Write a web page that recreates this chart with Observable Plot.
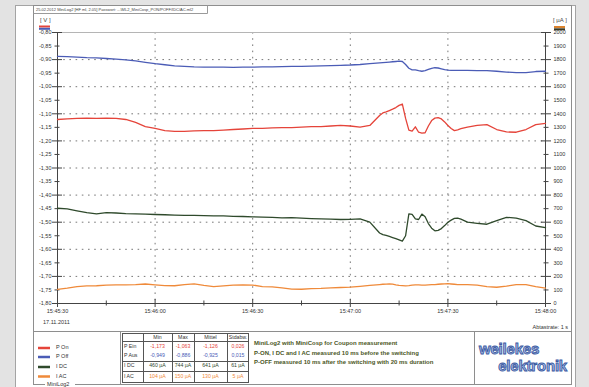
<!DOCTYPE html>
<html>
<head>
<meta charset="utf-8">
<script src="https://cdn.jsdelivr.net/npm/d3@7"></script>
<script src="https://cdn.jsdelivr.net/npm/@observablehq/plot@0.6"></script>
<style>
  html, body { margin: 0; padding: 0; background: #e3e3e3; }
  #page { position: relative; width: 589px; height: 387px; overflow: hidden; }
  #page > svg { position: absolute; left: 0; top: 0; }
</style>
</head>
<body>
<div id="page"></div>
<script>
// Sample times in seconds after 15:45:30 (17.11.2011)
const seconds = [0,3,6,9,12,15,18,21,24,27,30,33,36,39,42,45,48,51,54,57,60,63,66,69,72,75,78,81,84,87,90,93,96,99,
  100,101,102,103,104,105,106,107,108,109,110,111,112,113,114,115,116,117,118,119,120,121,122,123,124,125,126,
  129,132,135,138,141,144,147,150];

// P On potential [V]
const pOn = [-1.121,-1.119,-1.117,-1.116,-1.117,-1.116,-1.117,-1.121,-1.132,-1.147,-1.154,-1.162,-1.165,-1.165,-1.163,-1.162,-1.162,-1.160,-1.158,-1.156,-1.154,-1.154,-1.152,-1.151,-1.151,-1.149,-1.147,-1.147,-1.145,-1.143,-1.145,-1.149,-1.143,-1.106,
  -1.097,-1.093,-1.088,-1.083,-1.077,-1.069,-1.064,-1.117,-1.160,-1.164,-1.148,-1.168,-1.171,-1.170,-1.145,-1.125,-1.116,-1.114,-1.119,-1.130,-1.143,-1.154,-1.162,-1.159,-1.155,-1.152,-1.149,
  -1.143,-1.140,-1.158,-1.167,-1.168,-1.158,-1.140,-1.135];

// P Off potential [V]
const pOff = [-0.888,-0.889,-0.891,-0.893,-0.894,-0.896,-0.898,-0.901,-0.905,-0.910,-0.915,-0.919,-0.923,-0.925,-0.927,-0.928,-0.928,-0.928,-0.929,-0.928,-0.928,-0.927,-0.927,-0.926,-0.925,-0.925,-0.924,-0.923,-0.922,-0.921,-0.920,-0.918,-0.915,-0.912,
  -0.911,-0.910,-0.909,-0.908,-0.907,-0.906,-0.907,-0.918,-0.932,-0.938,-0.938,-0.941,-0.943,-0.941,-0.936,-0.932,-0.930,-0.931,-0.934,-0.937,-0.939,-0.940,-0.940,-0.940,-0.940,-0.940,-0.940,
  -0.941,-0.941,-0.943,-0.946,-0.948,-0.948,-0.944,-0.943];

// I DC current [µA]
const iDC = [703,699,684,670,662,670,668,664,662,660,657,655,652,650,650,648,646,646,643,642,640,638,636,632,634,630,627,625,622,620,621,625,601,520,
  508,503,495,487,479,470,460,500,662,657,625,620,660,640,590,556,536,540,553,575,600,615,628,630,622,612,600,
  592,585,612,636,630,612,572,560];

// I AC current [µA]
const iAC = [104,113,125,130,131,135,137,138,140,144,138,132,131,140,145,134,125,130,136,138,136,125,122,115,106,105,110,112,116,118,121,127,134,140,
  142,143,145,143,138,134,132,130,132,135,137,138,136,135,137,139,140,142,144,145,146,144,142,140,139,140,139,
  136,125,120,128,140,140,124,114];

// Statistics table
const statHeads = ["Min", "Max", "Mittel", "Stdabw."];
const statRows = ["P Ein", "P Aus", "I DC", "I AC"];
const statValues = [
  ["-1,173", "-1,063", "-1,126", "0,026"],
  ["-0,949", "-0,886", "-0,925", "0,015"],
  ["460 µA", "744 µA", "641 µA", "61 µA"],
  ["104 µA", "150 µA", "130 µA", "5 µA"]
];
const legendNames = ["P On", "P Off", "I DC", "I AC"];
const noteLines = [
  "MiniLog2 with MiniCosp for Coupon measurement",
  "P-ON, I DC and I AC measured 10 ms before the switching",
  "P-OFF measured 10 ms after the switching with 20 ms duration"
];

const colors = {pOn: "#e5443a", pOff: "#4b5cb6", iDC: "#2f4a2c", iAC: "#ef8a3a"};
const seriesColors = [colors.pOn, colors.pOff, colors.iDC, colors.iAC];
const FONT = "Arial, 'Liberation Sans', sans-serif";

const t0 = new Date(2011, 10, 17, 15, 45, 30);
const at = s => new Date(t0.getTime() + s * 1000);
const toV = uA => -1.8 + uA / 2000;   // right axis: 0..2000 µA over -1.80..-0.80 V

const rows = seconds.map((s, i) => ({t: at(s), pOn: pOn[i], pOff: pOff[i], iDC: iDC[i], iAC: iAC[i]}));

const vAll = d3.range(0, 21).map(i => +(-0.8 - i * 0.05).toFixed(2));
const vMajor = vAll.filter((v, i) => i % 2 === 0);
const vMinor = vAll.filter((v, i) => i % 2 === 1);
const vGrid = vMajor.filter(v => v < -0.85 && v > -1.75);
const tMajor = [0, 30, 60, 90, 120, 150].map(at);
const tMinor = [15, 45, 75, 105, 135].map(at);
const tGrid = [30, 60, 90, 120].map(at);
const fmtV = v => v.toFixed(2).replace(".", ",");
const fmtA = v => String(Math.round((v + 1.8) * 2000));
const fmtT = d3.timeFormat("%H:%M:%S");
const blank = () => "";

// ---------- window and panel decoration (behind the chart) ----------
const page = d3.select("#page");
const deco = page.append("svg").attr("width", 589).attr("height", 387)
  .style("font-family", FONT);

deco.append("rect").attr("x", 15.5).attr("y", 5.5).attr("width", 560).attr("height", 392)
  .attr("fill", "#fff").attr("stroke", "#a4a4a4");
deco.append("rect").attr("x", 33.5).attr("y", 5.5).attr("width", 538).attr("height", 379)
  .attr("fill", "none").attr("stroke", "#8e8e8e");
deco.append("path").attr("d", "M33.5,13.5H207.5V5.5").attr("fill", "none").attr("stroke", "#9a9a9a");
deco.append("text").attr("x", 36).attr("y", 9.7).attr("dominant-baseline", "middle")
  .attr("font-size", 4).attr("fill", "#444")
  .text("25.02.2012  MiniLog2 [HF ml, 2.05]  Passwort:  ...\\ML2_MiniCosp_PON/POFF/IDC/AC.ml2");

// unit headers with colour keys
deco.append("text").attr("x", 40).attr("y", 20.5).attr("dominant-baseline", "middle")
  .attr("font-size", 6).attr("fill", "#444").text("[ V ]");
deco.append("rect").attr("x", 39).attr("y", 25.5).attr("width", 11).attr("height", 2).attr("fill", colors.pOn);
deco.append("rect").attr("x", 39).attr("y", 27.8).attr("width", 11).attr("height", 2).attr("fill", colors.pOff);
deco.append("text").attr("x", 553).attr("y", 20.5).attr("dominant-baseline", "middle")
  .attr("font-size", 6).attr("fill", "#444").text("[ µA ]");
deco.append("rect").attr("x", 554).attr("y", 26).attr("width", 11).attr("height", 2).attr("fill", "#d9822e");
deco.append("rect").attr("x", 554).attr("y", 28.3).attr("width", 11).attr("height", 2).attr("fill", "#3a3a26");

deco.append("text").attr("x", 43).attr("y", 323).attr("dominant-baseline", "middle")
  .attr("font-size", 5.5).attr("fill", "#333").text("17.11.2011");
deco.append("text").attr("x", 568).attr("y", 327.5).attr("dominant-baseline", "middle")
  .attr("text-anchor", "end").attr("font-size", 5.5).attr("fill", "#333").text("Abtastrate: 1 s");

// bottom panel
deco.append("line").attr("x1", 33).attr("x2", 571).attr("y1", 331.5).attr("y2", 331.5).attr("stroke", "#8e8e8e");
deco.append("line").attr("x1", 120.5).attr("x2", 120.5).attr("y1", 331).attr("y2", 384).attr("stroke", "#8e8e8e");
deco.append("line").attr("x1", 474.5).attr("x2", 474.5).attr("y1", 331).attr("y2", 384).attr("stroke", "#8e8e8e");

// legend
legendNames.forEach((name, i) => {
  const y = [348, 357, 367, 376.5][i];
  deco.append("line").attr("x1", 38).attr("x2", 50).attr("y1", y).attr("y2", y)
    .attr("stroke", seriesColors[i]).attr("stroke-width", 2.5);
  deco.append("text").attr("x", 56).attr("y", y).attr("dominant-baseline", "middle")
    .attr("font-size", 5.5).attr("fill", "#333").text(name);
});
deco.append("rect").attr("x", 45).attr("y", 381).attr("width", 30).attr("height", 6).attr("fill", "#fff");
deco.append("text").attr("x", 47).attr("y", 384.5).attr("dominant-baseline", "middle")
  .attr("font-size", 5.5).attr("fill", "#333").text("MiniLog2");

// statistics table
const colEdges = [122, 143, 172, 194, 227, 249];
const rowY = [346.5, 356, 366, 376.5];
deco.append("rect").attr("x", 122.5).attr("y", 333.5).attr("width", 126).attr("height", 49)
  .attr("fill", "none").attr("stroke", "#555");
colEdges.slice(1, -1).forEach(x => deco.append("line").attr("x1", x + 0.5).attr("x2", x + 0.5)
  .attr("y1", 333.5).attr("y2", 382.5).attr("stroke", "#555"));
[341.5, 361.5, 371.5].forEach(y => deco.append("line").attr("x1", 122.5).attr("x2", 248.5)
  .attr("y1", y).attr("y2", y).attr("stroke", "#555"));
statHeads.forEach((h, j) => deco.append("text")
  .attr("x", (colEdges[j + 1] + colEdges[j + 2]) / 2).attr("y", 337.5)
  .attr("text-anchor", "middle").attr("dominant-baseline", "middle")
  .attr("font-size", 5.2).attr("fill", "#333").text(h));
statRows.forEach((r, i) => {
  deco.append("text").attr("x", 124).attr("y", rowY[i]).attr("dominant-baseline", "middle")
    .attr("font-size", 5.2).attr("fill", "#333").text(r);
  statValues[i].forEach((v, j) => deco.append("text")
    .attr("x", (colEdges[j + 1] + colEdges[j + 2]) / 2).attr("y", rowY[i])
    .attr("text-anchor", "middle").attr("dominant-baseline", "middle")
    .attr("font-size", 5.2).attr("fill", seriesColors[i]).text(v));
});

// measurement note
noteLines.forEach((line, i) => deco.append("text").attr("x", 254).attr("y", [343.5, 353, 362.5][i])
  .attr("dominant-baseline", "middle").attr("font-size", 6).attr("font-weight", "bold")
  .attr("fill", "#4b5726").text(line));

// company logo
const logoStyle = sel => sel.attr("font-size", 15).attr("font-weight", "bold")
  .attr("fill", "#aabbe4").attr("stroke", "#3a5aa2").attr("stroke-width", 0.9)
  .attr("letter-spacing", -0.2);
deco.append("text").attr("x", 479).attr("y", 354).call(logoStyle).text("weilekes");
deco.append("text").attr("x", 567).attr("y", 370.5).attr("text-anchor", "end").call(logoStyle).text("elektronik");

// ---------- chart ----------
const grey = "#444";
const dots = {stroke: "#777", strokeDasharray: "1.6,4.6", strokeWidth: 1};
const chart = Plot.plot({
  width: 589,
  height: 387,
  marginLeft: 57,
  marginRight: 44,
  marginTop: 32,
  marginBottom: 84,
  x: {type: "time", domain: [at(0), at(150)]},
  y: {domain: [-1.8, -0.8]},
  style: {background: "transparent", fontFamily: FONT, fontSize: "5.5px", color: "#333"},
  marks: [
    Plot.ruleY(vGrid, dots),
    Plot.ruleX(tGrid, dots),
    Plot.ruleY([-0.8], {stroke: "#b5b5b5"}),
    Plot.ruleX([at(0), at(150)], {stroke: grey}),
    Plot.ruleY([-1.8], {stroke: grey}),

    // left axis (V)
    Plot.axisY({anchor: "left", ticks: vMajor, tickSize: 10, dx: 5, tickFormat: blank, label: null, stroke: grey}),
    Plot.axisY({anchor: "left", ticks: vMinor, tickSize: 5, dx: 2.5, tickFormat: blank, label: null, stroke: grey}),
    Plot.axisY({anchor: "left", ticks: vAll, tickSize: 0, tickPadding: 6, tickFormat: fmtV, label: null, fontSize: 5.5}),
    // right axis (µA)
    Plot.axisY({anchor: "right", ticks: vMajor, tickSize: 10, dx: -5, tickFormat: blank, label: null, stroke: grey}),
    Plot.axisY({anchor: "right", ticks: vMinor, tickSize: 5, dx: -2.5, tickFormat: blank, label: null, stroke: grey}),
    Plot.axisY({anchor: "right", ticks: vAll, tickSize: 0, tickPadding: 8, tickFormat: fmtA, label: null, fontSize: 5.5}),
    // time axis
    Plot.axisX({anchor: "bottom", ticks: tMajor, tickSize: 8, dy: -4, tickFormat: blank, label: null, stroke: grey}),
    Plot.axisX({anchor: "bottom", ticks: tMinor, tickSize: 5, dy: -2.5, tickFormat: blank, label: null, stroke: grey}),
    Plot.axisX({anchor: "bottom", ticks: tMajor, tickSize: 0, tickPadding: 6, tickFormat: fmtT, label: null, fontSize: 5.5}),

    // series
    Plot.line(rows, {x: "t", y: "pOff", stroke: colors.pOff, strokeWidth: 1.3}),
    Plot.line(rows, {x: "t", y: "pOn", stroke: colors.pOn, strokeWidth: 1.3}),
    Plot.line(rows, {x: "t", y: d => toV(d.iDC), stroke: colors.iDC, strokeWidth: 1.3}),
    Plot.line(rows, {x: "t", y: d => toV(d.iAC), stroke: colors.iAC, strokeWidth: 1.3})
  ]
});
document.getElementById("page").appendChild(chart);
</script>
</body>
</html>
